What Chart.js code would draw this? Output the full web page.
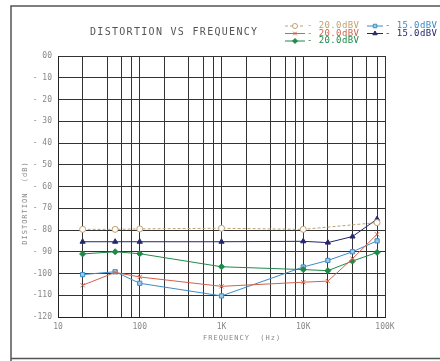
<!DOCTYPE html>
<html>
<head>
<meta charset="utf-8">
<script src="https://cdn.jsdelivr.net/npm/chart.js@4"></script>
<style>
  html, body { margin: 0; padding: 0; background: #fff; }
  #wrap { width: 440px; height: 361px; }
</style>
</head>
<body>
<div id="wrap"><canvas id="chart" width="440" height="361"></canvas></div>
<script>
// frequencies (Hz) where points were measured
const freqs = [20, 50, 100, 1000, 10000, 20000, 40000, 80000];
const tanFreqs = [20, 50, 100, 1000, 10000, 80000];

// distortion (dB) per series
const tanVals   = [-79.7, -79.7, -79.5, -79.2, -79.7, -76.6];
const redVals   = [-105.4, -99.5, -101.6, -105.9, -104, -103.5, -93.2, -82];
const greenVals = [-91.0, -90.0, -90.9, -96.9, -98.2, -98.7, -94.3, -90.3];
const blueVals  = [-100.5, -99.2, -104.5, -110.3, -97, -94, -90, -85];
const navyVals  = [-85.4, -85.4, -85.4, -85.4, -85.2, -85.8, -83, -75];

const seriesLabels = ["- 20.0dBV", "- 20.0dBV", "- 20.0dBV", "- 15.0dBV", "- 15.0dBV"];

// log grid: 10,20,40,60,80 in every decade
const xGridTicks = [10, 20, 40, 60, 80, 100, 200, 400, 600, 800, 1000, 2000, 4000, 6000, 8000,
  10000, 20000, 40000, 60000, 80000, 100000];
const xTickLabels = { 10: "10", 100: "100", 1000: "1K", 10000: "10K", 100000: "100K" };

function pts(xs, ys) {
  return xs.map((x, i) => ({ x: x, y: ys[i] }));
}

const mono = "'DejaVu Sans Mono', monospace";

// frame, title, axis titles and legend
const decor = {
  id: "decor",
  beforeDraw(chart) {
    const ctx = chart.ctx;
    ctx.save();
    ctx.fillStyle = "#fff";
    ctx.fillRect(0, 0, chart.width, chart.height);
    ctx.strokeStyle = "#555";
    ctx.lineWidth = 1.5;
    ctx.beginPath();
    ctx.moveTo(440, 6); ctx.lineTo(11, 6); ctx.lineTo(11, 361);
    ctx.moveTo(11, 358.5); ctx.lineTo(440, 358.5);
    ctx.stroke();
    ctx.restore();
  },
  afterDraw(chart) {
    const ctx = chart.ctx;
    ctx.save();
    ctx.textBaseline = "middle";
    ctx.fillStyle = "#555";
    ctx.font = "10px " + mono;
    ctx.letterSpacing = "1.3px";
    ctx.textAlign = "left";
    ctx.fillText("DISTORTION VS FREQUENCY", 90, 32);

    ctx.font = "7px " + mono;
    ctx.letterSpacing = "1px";
    ctx.fillStyle = "#888";
    ctx.fillText("FREQUENCY  (Hz)", 203, 338);

    ctx.save();
    ctx.translate(25, 203);
    ctx.rotate(-Math.PI / 2);
    ctx.textAlign = "center";
    ctx.fillText("DISTORTION  (dB)", 0, 0);
    ctx.restore();

    // legend, two columns
    const slots = [[285, 26], [285, 33.5], [285, 41], [367, 26], [367, 33.5]];
    ctx.font = "9px " + mono;
    ctx.letterSpacing = "0.4px";
    chart.data.datasets.forEach((ds, i) => {
      const [lx, ly] = slots[i];
      const w = i < 3 ? 20 : 16;
      ctx.strokeStyle = ds.borderColor;
      ctx.lineWidth = 1;
      ctx.setLineDash(ds.borderDash || []);
      ctx.beginPath();
      ctx.moveTo(lx, ly); ctx.lineTo(lx + w, ly);
      ctx.stroke();
      ctx.setLineDash([]);
      ctx.fillStyle = ds.backgroundColor;
      Chart.helpers.drawPoint(ctx, {
        pointStyle: ds.pointStyle, radius: 2.5, borderWidth: 1, rotation: 0
      }, lx + w / 2, ly);
      ctx.fillStyle = ds.borderColor;
      ctx.textAlign = "left";
      ctx.fillText(seriesLabels[i], lx + w + 2, ly);
    });
    ctx.restore();
  }
};

new Chart(document.getElementById("chart"), {
  type: "line",
  data: {
    datasets: [
      { label: seriesLabels[0], data: pts(tanFreqs, tanVals), borderColor: "#bfa273",
        backgroundColor: "#fff", borderDash: [3, 2], pointStyle: "circle" },
      { label: seriesLabels[1], data: pts(freqs, redVals), borderColor: "#d0644c",
        backgroundColor: "#d0644c", pointStyle: "crossRot" },
      { label: seriesLabels[2], data: pts(freqs, greenVals), borderColor: "#1f8a48",
        backgroundColor: "#1f8a48", pointStyle: "rectRot" },
      { label: seriesLabels[3], data: pts(freqs, blueVals), borderColor: "#3d8cc6",
        backgroundColor: "#9cc8e6", pointStyle: "rect" },
      { label: seriesLabels[4], data: pts(freqs, navyVals), borderColor: "#25276e",
        backgroundColor: "#25276e", pointStyle: "triangle" }
    ]
  },
  options: {
    responsive: false,
    animation: false,
    layout: { padding: { top: 56, right: 55, left: 0, bottom: 0 } },
    elements: {
      line: { borderWidth: 1, tension: 0 },
      point: { radius: 3, borderWidth: 1 }
    },
    plugins: { legend: { display: false }, title: { display: false }, tooltip: { enabled: false } },
    scales: {
      x: {
        type: "logarithmic",
        min: 10,
        max: 100000,
        afterBuildTicks(s) { s.ticks = xGridTicks.map(v => ({ value: v })); },
        afterFit(s) { s.height = 44; },
        ticks: {
          autoSkip: false, maxRotation: 0, padding: 5, color: "#888",
          font: { family: mono, size: 8 },
          callback(v) { return xTickLabels[v] || ""; }
        },
        grid: { color: "#333", lineWidth: 1, drawTicks: false },
        border: { color: "#222", width: 1 }
      },
      y: {
        min: -120,
        max: 0,
        afterFit(s) { s.width = 58; },
        ticks: {
          stepSize: 10, padding: 6, color: "#888",
          font: { family: mono, size: 8 },
          callback(v) { return v === 0 ? "00" : (v > -100 ? "- " + (-v) : String(v)); }
        },
        grid: { color: "#333", lineWidth: 1, drawTicks: false },
        border: { color: "#222", width: 1 }
      }
    }
  },
  plugins: [decor]
});
</script>
</body>
</html>
